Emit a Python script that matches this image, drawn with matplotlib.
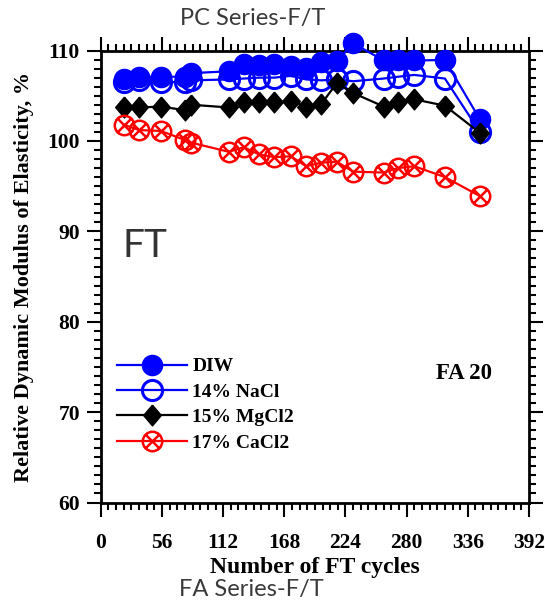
import numpy as np
import matplotlib.pyplot as plt
from matplotlib.path import Path
from matplotlib.ticker import MultipleLocator

# FT cycles and relative dynamic modulus (%)
cycles = [21, 35, 55, 77, 83, 117, 131, 145, 159, 174, 188, 202, 216, 231, 259, 272, 287, 315, 347]
diw = [106.8, 107.1, 107.1, 107.1, 107.5, 107.7, 108.5, 108.4, 108.5, 108.3, 108.1, 108.7, 108.8,
       110.8, 108.9, 108.9, 108.9, 108.95, 102.4]
nacl = [106.5, 106.7, 106.5, 106.5, 106.7, 106.8, 106.9, 107.0, 107.0, 107.2, 106.8, 106.7, 106.8,
        106.6, 106.9, 107.1, 107.3, 106.9, 101.0]
mgcl2 = [103.7, 103.7, 103.8, 103.4, 104.0, 103.7, 104.3, 104.3, 104.3, 104.4, 103.8, 104.1, 106.4,
         105.3, 103.8, 104.3, 104.6, 103.9, 100.9]
cacl2 = [101.8, 101.2, 101.1, 100.1, 99.8, 98.8, 99.3, 98.5, 98.2, 98.3, 97.2, 97.6, 97.7,
         96.6, 96.5, 97.0, 97.2, 96.0, 93.9]

# circle with an x inside
d = np.sqrt(0.5)
cross = Path([(-d, -d), (d, d), (-d, d), (d, -d)],
             [Path.MOVETO, Path.LINETO, Path.MOVETO, Path.LINETO])
circx = Path.make_compound_path(Path.unit_circle(), cross)
diamond = [(0, 1), (0.85, 0), (0, -1), (-0.85, 0), (0, 1)]

serif = 'Liberation Serif'

fig = plt.figure(figsize=(5.45, 6.05), dpi=100)
ax = fig.add_axes([0.185, 0.1694, 0.7856, 0.7471])

l2, = ax.plot(cycles, nacl, color='#0000ff', lw=1.6, marker='o', ms=14.5, mfc='none',
              mec='#0000ff', mew=2.2, clip_on=False, zorder=3, label='14% NaCl')
l1, = ax.plot(cycles, diw, color='#0000ff', lw=1.6, marker='o', ms=14.5, mfc='#0000ff',
              mec='#0000ff', clip_on=False, zorder=4, label='DIW')
l3, = ax.plot(cycles, mgcl2, color='black', lw=1.6, marker=diamond, ms=15, mfc='black',
              mec='black', clip_on=False, zorder=5, label='15% MgCl2')
l4, = ax.plot(cycles, cacl2, color='#ff0000', lw=1.6, marker=circx, ms=14, mfc='none',
              mec='#ff0000', mew=1.8, clip_on=False, zorder=6, label='17% CaCl2')

ax.set_xlim(0, 392)
ax.set_ylim(60, 110)
ax.xaxis.set_major_locator(MultipleLocator(56))
ax.xaxis.set_minor_locator(MultipleLocator(7))
ax.yaxis.set_major_locator(MultipleLocator(10))
ax.yaxis.set_minor_locator(MultipleLocator(1))
ax.tick_params(which='both', direction='out', top=True, right=True, width=1.5)
ax.tick_params(which='major', length=10)
ax.tick_params(which='minor', length=5)
ax.tick_params(axis='x', which='major', pad=12)
ax.tick_params(axis='y', which='major', pad=5)
for s in ax.spines.values():
    s.set_linewidth(2)

for lab in ax.get_xticklabels() + ax.get_yticklabels():
    lab.set_fontfamily(serif)
    lab.set_fontweight('bold')
    lab.set_fontsize(15.5)

ax.set_xlabel('Number of FT cycles', family=serif, weight='bold', fontsize=17, labelpad=3)
ax.set_ylabel('Relative Dynamic Modulus of Elasticity, %', family=serif, weight='bold',
              fontsize=16, labelpad=10)

leg = ax.legend(handles=[l1, l2, l3, l4], loc='lower left', bbox_to_anchor=(-0.004, 0.074),
                frameon=False, handlelength=3.6, handletextpad=0.3, labelspacing=0.4,
                prop={'family': serif, 'weight': 'bold', 'size': 14})

ax.text(0.05, 0.544, 'FT', transform=ax.transAxes, family='Lato', fontsize=28, color='#333333')
ax.text(0.914, 0.285, 'FA 20', transform=ax.transAxes, family=serif, weight='bold', fontsize=16.5,
        ha='right', va='center')

fig.text(0.464, 0.970, 'PC Series-F/T', family='Lato', fontsize=17, color='#3a3a3a',
         ha='center', va='center')
fig.text(0.461, 0.025, 'FA Series-F/T', family='Lato', fontsize=17, color='#3a3a3a',
         ha='center', va='center')

fig.savefig('out.png', dpi=100)
